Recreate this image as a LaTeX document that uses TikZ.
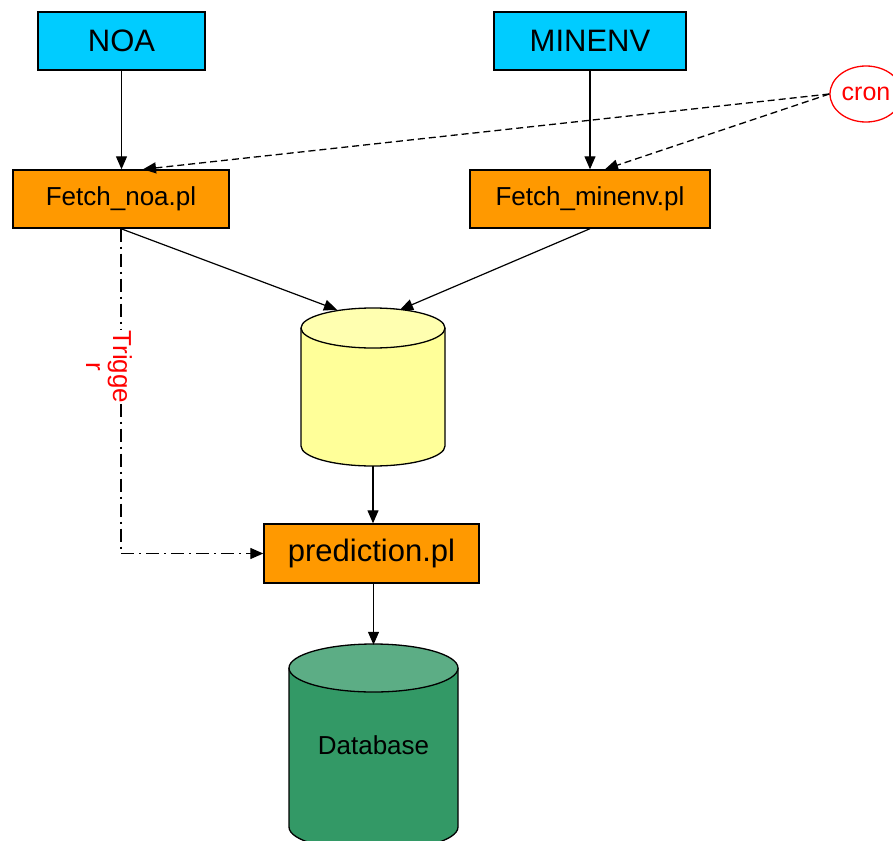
\documentclass[tikz,border=0pt]{standalone}
\usepackage{fontspec}
\setmainfont{Liberation Sans}
\usetikzlibrary{arrows.meta,shapes.geometric}
\definecolor{srccyan}{HTML}{00CCFF}
\definecolor{procorange}{HTML}{FF9900}
\definecolor{storebody}{HTML}{FFFF99}
\definecolor{storetop}{HTML}{FFFFB0}
\definecolor{dbbody}{HTML}{339966}
\definecolor{dbtop}{HTML}{5CAD85}
\definecolor{cronred}{HTML}{FF0000}
\begin{document}
\begin{tikzpicture}[x=1pt,y=-1pt,
  srcbox/.style={draw, line width=1.4pt, fill=srccyan, minimum height=58pt, inner sep=0pt,
    font=\fontsize{31}{36}\selectfont},
  procbox/.style={draw, line width=1.4pt, fill=procorange, minimum height=58pt, inner sep=0pt,
    font=\fontsize{26}{30}\selectfont},
  arr/.style={-{Triangle[length=13pt,width=11pt]}, line width=1.2pt},
  cronline/.style={dash pattern=on 7pt off 4pt, line width=1.3pt},
  trigline/.style={dash pattern=on 13pt off 5pt on 2pt off 5pt, line width=1.3pt},
  ghost/.style={inner sep=0pt}]
\useasboundingbox (0,0) rectangle (893,840);
\clip (0,0) rectangle (893,840);

% sources
\node[srcbox, minimum width=167pt] (noa) at (121.5,41) {NOA};
\node[srcbox, minimum width=192pt] (minenv) at (590,41) {MINENV};

% fetch scripts
\node[procbox, minimum width=216pt] (fnoa) at (121,199) {Fetch\_noa.pl};
\node[procbox, minimum width=240pt] (fmin) at (590,199) {Fetch\_minenv.pl};

% cron
\node[ellipse, draw=cronred, line width=1.3pt, inner sep=0pt, minimum width=72pt,
  minimum height=56pt, text=cronred, font=\fontsize{25}{28}\selectfont] (cron) at (866,94) {cron};

% store cylinder (yellow)
\node[ghost, minimum width=144pt, minimum height=158pt] (store) at (373,387) {};
\filldraw[fill=storebody, line width=1.3pt] (301,328) -- (301,446)
  arc[start angle=180, end angle=360, x radius=72pt, y radius=20pt] -- (445,328);
\filldraw[fill=storetop, line width=1.3pt] (373,328) ellipse[x radius=72pt, y radius=20pt];

% prediction
\node[procbox, minimum width=215pt, minimum height=59pt, font=\fontsize{31}{36}\selectfont] (pred) at (371.5,553.5) {prediction.pl};

% database cylinder (green)
\filldraw[fill=dbbody, line width=1.3pt] (289,668) -- (289,827)
  arc[start angle=180, end angle=360, x radius=84.5pt, y radius=24pt] -- (458,668);
\filldraw[fill=dbtop, line width=1.3pt] (373.5,668) ellipse[x radius=84.5pt, y radius=24pt];
\node[ghost, minimum width=169pt, minimum height=200pt, font=\fontsize{26}{30}\selectfont] (db) at (373.5,745) {Database};

% connectors
\draw[arr] (noa.south) -- (noa.south |- fnoa.north);
\draw[arr] (minenv.south) -- (minenv.south |- fmin.north);
\draw[arr, cronline] (cron.west) -- ([xshift=22pt]fnoa.north);
\draw[arr, cronline] (cron.west) -- ([xshift=15pt]fmin.north);
\draw[arr] (fnoa.south) -- ([xshift=-36pt,yshift=-2pt]store.north);
\draw[arr] (fmin.south) -- ([xshift=27pt,yshift=-2pt]store.north);
\draw[arr] (store.south) -- (store.south |- pred.north);
\draw[arr] (pred.south -| db.north) -- (db.north);
\draw[arr, trigline] (fnoa.south) -- (fnoa.south |- pred.west) -- (pred.west);
\node[rotate=-90, text=cronred, fill=white, align=center, inner sep=1pt,
  font=\fontsize{26}{27}\selectfont] (trig) at (109,367) {Trigge\\r};
\end{tikzpicture}
\end{document}
